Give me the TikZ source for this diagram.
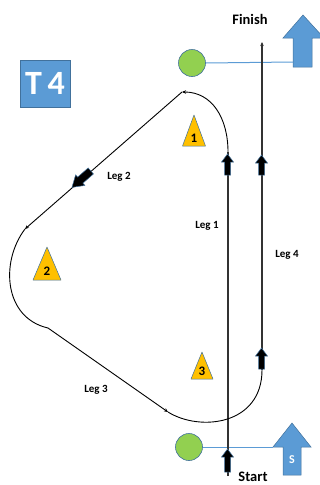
\documentclass[tikz,border=0pt]{standalone}
\usepackage{fontspec}
\setmainfont{Carlito}
\usetikzlibrary{arrows.meta}
\definecolor{obl}{HTML}{5B9BD5}
\definecolor{obd}{HTML}{41719C}
\definecolor{ogr}{HTML}{92D050}
\definecolor{oor}{HTML}{FFC000}
\definecolor{lgr}{HTML}{333333}
\tikzset{
  buoy/.style={circle, fill=ogr, draw=obd, line width=0.6pt, minimum size=27pt, inner sep=0pt},
  tri/.style={fill=oor, draw=obd, line width=0.5pt, line join=round},
  trinum/.style={font=\fontsize{13}{13}\selectfont\bfseries, inner sep=0pt},
  leg/.style={font=\fontsize{11}{11}\selectfont\bfseries, inner sep=0pt},
  big/.style={font=\fontsize{14.5}{14.5}\selectfont\bfseries, inner sep=0pt},
  course/.style={black, line width=0.9pt},
  vert/.style={lgr, line width=1.1pt},
  blk/.style={fill=black, draw=obd, line width=0.5pt, line join=miter},
  bigarrow/.style={fill=obl, draw=obd, line width=0.5pt},
  rope/.style={obl, line width=1pt},
  tip/.style={-{Stealth[length=4pt,width=3.5pt]}},
}
\newcommand\blockup[3]{%
  \draw[blk] (#1,#2) -- (#1+6,#2+8) -- (#1+3,#2+8) -- (#1+3,#3) -- (#1-3,#3) -- (#1-3,#2+8) -- (#1-6,#2+8) -- cycle;}
\begin{document}
\begin{tikzpicture}[x=1pt,y=-1pt]
\useasboundingbox (0,0) rectangle (320,485);
% title box
\node[fill=obl, draw=obd, line width=0.6pt, minimum width=50pt, minimum height=47pt, inner sep=0pt,
      text=white, font=\fontsize{34}{34}\selectfont\bfseries] (title) at (45,83.5) {T\,4};
% buoys
\node[buoy] (top) at (192,63) {};
\node[buoy] (bot) at (189,447) {};
% big blue arrows
\draw[bigarrow] (303,15) -- (324,38) -- (312,38) -- (312,67) -- (293,67) -- (293,38) -- (283,38) -- cycle;
\draw[bigarrow] (292,423) -- (311,447) -- (301,447) -- (301,475) -- (283,475) -- (283,447) -- (273,447) -- cycle;
\node[big, text=white, font=\fontsize{12}{12}\selectfont\bfseries] (s) at (292,460) {S};
\coordinate (fa) at (293,62);
\coordinate (sa) at (273,447);
\draw[rope] (top.east) -- (fa);
\draw[rope] (bot.east) -- (sa);
% course coordinates
\coordinate (start) at (228,476);
\coordinate (l1top) at (228,152);
\coordinate (m1) at (182,92);
\coordinate (m2) at (25,229);
\coordinate (m2b) at (48,328);
\coordinate (m3) at (168,412);
\coordinate (l4bot) at (262,370);
\coordinate (finish) at (262,42);
% course
\draw[vert] (start) -- (l1top);
\draw[course, tip] (l1top) .. controls (228,118) and (212,92) .. (m1);
\draw[course, tip] (m1) -- (m2);
\draw[course] (m2) .. controls (0,262) and (4,318) .. (m2b);
\draw[course, tip] (m2b) -- (m3);
\draw[course] (m3) .. controls (200,432) and (262,425) .. (l4bot);
\draw[vert, tip] (l4bot) -- (finish);
% block arrows
\blockup{227.5}{154}{175}
\blockup{261.5}{155}{175}
\blockup{261.5}{348}{369}
\blockup{227.5}{449}{472}
\begin{scope}[shift={(81,179.5)}, rotate=221.1]
\draw[blk] (12,0) -- (1,7) -- (1,4) -- (-13,4) -- (-13,-4) -- (1,-4) -- (1,-7) -- cycle;
\end{scope}
% triangles
\draw[tri] (194,115) -- (205.5,146) -- (182.5,146) -- cycle;
\node[trinum] (n1) at (194,138) {1};
\draw[tri] (47,247) -- (61,280) -- (33,280) -- cycle;
\node[trinum] (n2) at (47,271) {2};
\draw[tri] (202,352) -- (213,379) -- (191,379) -- cycle;
\node[trinum] (n3) at (202,371) {3};
% labels
\node[big] (fin) at (250,19) {Finish};
\node[big] (st) at (253,476.5) {Start};
\node[leg] (leg2) at (119,177) {Leg 2};
\node[leg] (leg1) at (207,226) {Leg 1};
\node[leg] (leg4) at (287,255) {Leg 4};
\node[leg] (leg3) at (96,390) {Leg 3};
\end{tikzpicture}
\end{document}
